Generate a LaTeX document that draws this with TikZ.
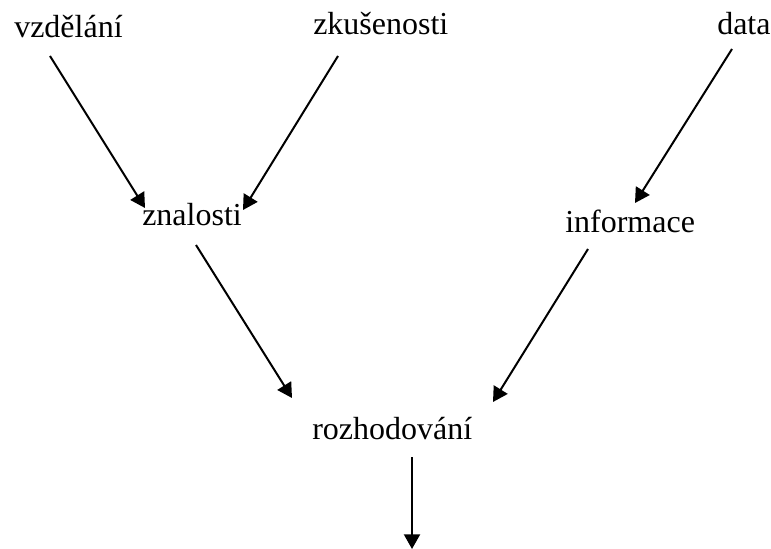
\documentclass[tikz,border=0pt]{standalone}
\usepackage{fontspec}
\setmainfont{Liberation Serif}
\usetikzlibrary{arrows.meta}
\begin{document}
\begin{tikzpicture}[x=0.75pt,y=-0.75pt,
  term/.style={inner sep=0pt,anchor=base west,font=\fontsize{24}{28}\selectfont},
  arr/.style={line width=1.5pt,-{Triangle[length=11pt,width=12pt]}}]
\useasboundingbox (0,0) rectangle (771,549);
% labels
\node[term] (vz)  at (14,38)   {vzdělání};
\node[term] (zk)  at (313,35)  {zkušenosti};
\node[term] (da)  at (717,35)  {data};
\node[term] (zn)  at (142,225) {znalosti};
\node[term] (inf) at (565,233) {informace};
\node[term] (ro)  at (312,439) {rozhodování};
% arrows
\draw[arr] ([shift={(36,18)}]vz.base west) -- ([shift={(3,-17)}]zn.base west);
\draw[arr] ([shift={(25,21)}]zk.base west) -- ([shift={(101,-15)}]zn.base west);
\draw[arr] ([shift={(15,14)}]da.base west) -- ([shift={(70,-30)}]inf.base west);
\draw[arr] ([shift={(54,20)}]zn.base west) -- ([shift={(-20,-41)}]ro.base west);
\draw[arr] ([shift={(23,16)}]inf.base west) -- ([shift={(181,-37)}]ro.base west);
\coordinate (out) at ([shift={(100,110)}]ro.base west);
\draw[arr] ([shift={(100,18)}]ro.base west) -- (out);
\end{tikzpicture}
\end{document}
